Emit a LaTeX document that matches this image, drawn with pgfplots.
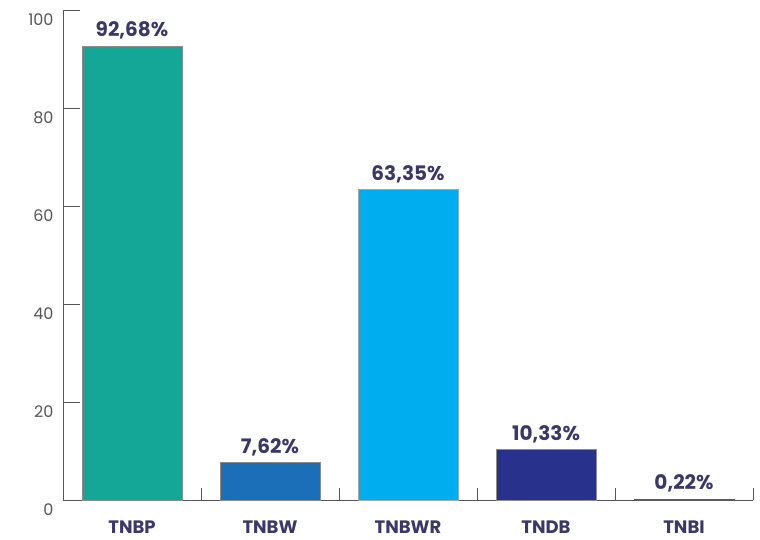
\documentclass[border=0pt]{standalone}
\usepackage{pgfplots}
\pgfplotsset{compat=1.18}
\usepackage{pgfplotstable}
\usepackage{fontspec}
\setmainfont{Poppins}
\definecolor{cTNBP}{RGB}{20,166,150}
\definecolor{cTNBW}{RGB}{26,111,184}
\definecolor{cTNBWR}{RGB}{0,174,239}
\definecolor{cTNDB}{RGB}{40,50,140}
\definecolor{cTNBI}{RGB}{90,90,100}
\definecolor{txt}{RGB}{59,56,104}
\definecolor{axgray}{RGB}{85,85,85}
\pgfplotsset{
  barlbl/.style={bar shift=0pt, line width=0.6pt, point meta=explicit symbolic, nodes near coords,
    every node near coord/.append style={font=\fontsize{20bp}{22bp}\selectfont\bfseries, text=txt, anchor=base, yshift=9bp}},
  ytk/.style={sharp plot, draw=axgray, line width=0.9pt, mark=none, forget plot},
}
\begin{document}
\begin{tikzpicture}
\path[use as bounding box] (-63bp,-40bp) rectangle (697bp,500bp);
\begin{axis}[
  at={(0,0)}, anchor=south west,
  scale only axis,
  width=690bp, height=490bp,
  xmin=-0.5, xmax=4.5,
  ymin=0, ymax=100,
  axis x line=bottom, axis y line=left,
  axis line style={-, draw=axgray, line width=0.9pt},
  ybar, bar width=100bp,
  xtick={0.5,1.5,2.5,3.5,4.5},
  xticklabels={TNBP,TNBW,TNBWR,TNDB,TNBI},
  ytick={0,20,40,60,80,100},
  minor ytick={0,20,40,60,80,100},
  major tick length=12bp,
  minor tick length=17bp,
  tick style={draw=axgray, line width=0.9pt},
  tick align=inside,
  xticklabel style={font=\fontsize{18bp}{20bp}\selectfont\bfseries, text=txt, anchor=north, yshift=-17bp, xshift=-69bp},
  yticklabel style={font=\fontsize{16bp}{18bp}\selectfont, text=axgray, anchor=north east, xshift=-6bp},
  /pgf/number format/assume math mode=true,
  clip=false,
]
\addplot[ytk] coordinates {(-0.5,0) (-0.377,0)};
\addplot[ytk] coordinates {(-0.5,20) (-0.377,20)};
\addplot[ytk] coordinates {(-0.5,40) (-0.377,40)};
\addplot[ytk] coordinates {(-0.5,60) (-0.377,60)};
\addplot[ytk] coordinates {(-0.5,80) (-0.377,80)};
\addplot[ytk] coordinates {(-0.5,100) (-0.377,100)};
\addplot[barlbl, fill=cTNBP, draw=black!45] coordinates {(0,92.68) [{92,68\%}]};
\addplot[barlbl, fill=cTNBW, draw=black!45] coordinates {(1,7.62) [{7,62\%}]};
\addplot[barlbl, fill=cTNBWR, draw=black!35] coordinates {(2,63.35) [{63,35\%}]};
\addplot[barlbl, fill=cTNDB, draw=black!45] coordinates {(3,10.33) [{10,33\%}]};
\addplot[barlbl, fill=cTNBI, draw=cTNBI] coordinates {(4,0.22) [{0,22\%}]};
\end{axis}
\end{tikzpicture}
\end{document}
